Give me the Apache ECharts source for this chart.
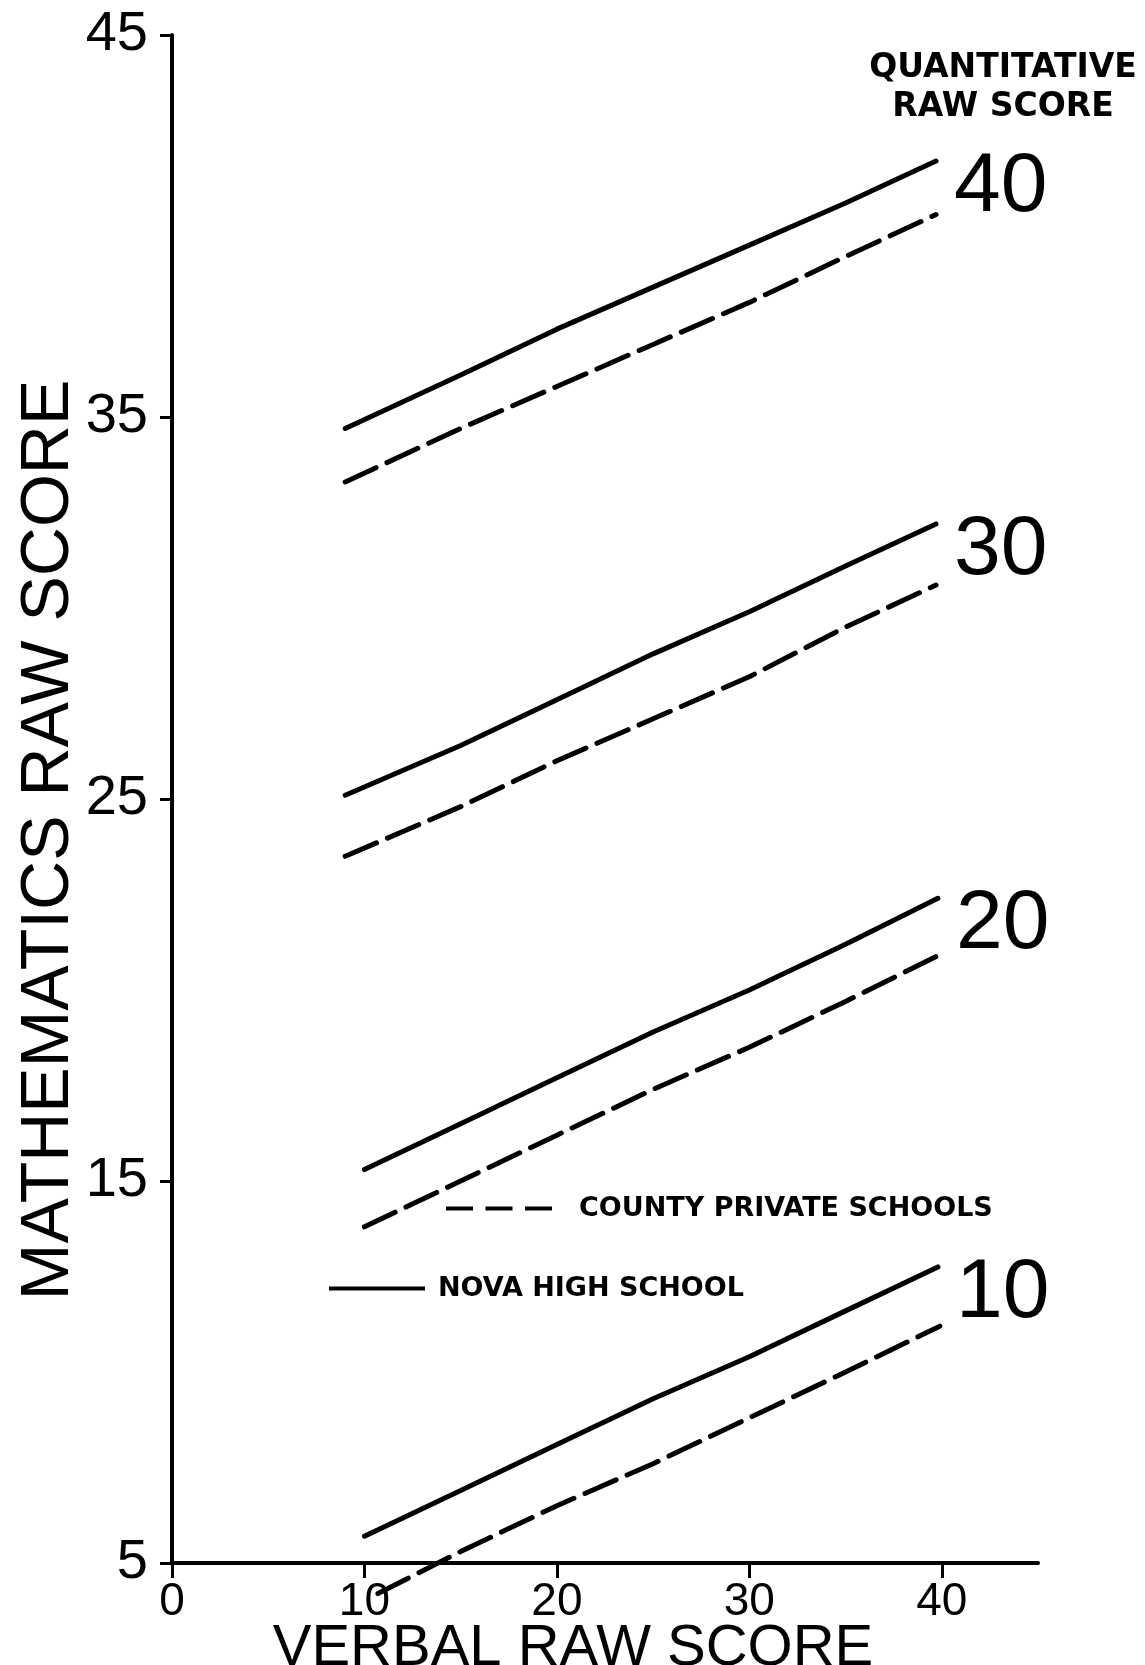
<!DOCTYPE html>
<html>
<head>
<meta charset="utf-8">
<script src="https://cdn.jsdelivr.net/npm/echarts@6/dist/echarts.min.js"></script>
<style>
  html, body { margin: 0; padding: 0; background: #fff; }
  #chart { width: 1145px; height: 1665px; }
</style>
</head>
<body>
<div id="chart"></div>
<script>
// verbal raw score positions where each curve was read
const verbalUpper = [9, 15, 20, 25, 30, 35, 39.7];
const verbalLower = [10, 15, 20, 25, 30, 35, 39.8];
const verbalCounty10 = [10.7, 15, 20, 25, 30, 35, 39.9];

// mathematics raw score, by quantitative raw score level
const nova40 = [34.7, 36.1, 37.3, 38.4, 39.5, 40.6, 41.7];
const county40 = [33.3, 34.7, 35.8, 36.9, 38.0, 39.2, 40.3];
const nova30 = [25.1, 26.4, 27.6, 28.8, 29.9, 31.1, 32.2];
const county30 = [23.5, 24.8, 26.0, 27.1, 28.2, 29.5, 30.6];
const nova20 = [15.3, 16.5, 17.7, 18.9, 20.0, 21.2, 22.4];
const county20 = [13.8, 15.0, 16.2, 17.4, 18.5, 19.7, 20.9];
const nova10 = [5.7, 6.9, 8.1, 9.3, 10.4, 11.6, 12.75];
const county10 = [4.2, 5.3, 6.5, 7.6, 8.8, 10.0, 11.2];

const NOVA = "NOVA HIGH SCHOOL";
const COUNTY = "COUNTY PRIVATE SCHOOLS";
const sans = "'Liberation Sans', sans-serif";
const bold = "'DejaVu Sans', sans-serif";

function pairs(xs, ys) {
  return xs.map((x, i) => [x, ys[i]]);
}

function novaLine(xs, ys, level) {
  return {
    name: NOVA,
    type: "line",
    color: "#000",
    data: pairs(xs, ys),
    symbol: "none",
    lineStyle: { color: "#000", width: 5, cap: "round" },
    endLabel: {
      show: true,
      formatter: level,
      fontFamily: sans,
      fontSize: 84,
      color: "#000",
      distance: 18,
      offset: [0, 27],
    },
  };
}

function countyLine(xs, ys) {
  return {
    name: COUNTY,
    type: "line",
    color: "#000",
    data: pairs(xs, ys),
    symbol: "none",
    clip: false,
    lineStyle: { color: "#000", width: 5, type: [34, 12], cap: "round" },
  };
}

const legendText = {
  fontFamily: bold,
  fontWeight: "bold",
  fontSize: 27,
  color: "#000",
};

const chart = echarts.init(document.getElementById("chart"));

const option = {
  animation: false,
  backgroundColor: "#fff",
  title: {
    text: "QUANTITATIVE\nRAW SCORE",
    left: 998,
    top: 44,
    textAlign: "center",
    textStyle: {
      fontFamily: bold,
      fontWeight: "bold",
      fontSize: 33,
      lineHeight: 39,
      color: "#000",
    },
  },
  legend: [
    {
      data: [{ name: COUNTY, icon: "path://M0,0H26V4H0Z M38,0H64V4H38Z M76,0H102V4H76Z" }],
      left: 441,
      top: 1190,
      itemWidth: 106,
      itemHeight: 5,
      textStyle: Object.assign({ padding: [0, 0, 0, 22] }, legendText),
    },
    {
      data: [{ name: NOVA, icon: "path://M0,0H96V4H0Z" }],
      left: 324,
      top: 1270,
      itemWidth: 96,
      itemHeight: 5,
      textStyle: Object.assign({ padding: [0, 0, 0, 8] }, legendText),
    },
  ],
  grid: {
    left: 172,
    right: 107,
    top: 35,
    bottom: 102,
    containLabel: false,
    outerBoundsMode: "none",
  },
  xAxis: {
    type: "value",
    min: 0,
    max: 45,
    interval: 10,
    name: "VERBAL RAW SCORE",
    nameLocation: "middle",
    nameGap: 57,
    nameMoveOverlap: false,
    nameTextStyle: {
      fontFamily: sans,
      fontSize: 58,
      color: "#000",
      padding: [0, 64, 0, 0],
    },
    axisLine: { lineStyle: { color: "#000", width: 4 } },
    axisTick: { show: true, length: 15, lineStyle: { color: "#000", width: 3 } },
    axisLabel: {
      showMaxLabel: false,
      margin: 16,
      fontFamily: sans,
      fontSize: 46,
      color: "#000",
    },
    splitLine: { show: false },
  },
  yAxis: {
    type: "value",
    min: 5,
    max: 45,
    interval: 10,
    name: "MATHEMATICS RAW SCORE",
    nameLocation: "middle",
    nameGap: 89,
    nameMoveOverlap: false,
    nameTextStyle: {
      fontFamily: sans,
      fontSize: 68,
      color: "#000",
      padding: [0, 82, 0, 0],
    },
    axisLine: { show: true, lineStyle: { color: "#000", width: 4 } },
    axisTick: { show: true, length: 12, lineStyle: { color: "#000", width: 3 } },
    axisLabel: {
      margin: 24,
      fontFamily: sans,
      fontSize: 56,
      color: "#000",
    },
    splitLine: { show: false },
  },
  series: [
    novaLine(verbalUpper, nova40, "40"),
    countyLine(verbalUpper, county40),
    novaLine(verbalUpper, nova30, "30"),
    countyLine(verbalUpper, county30),
    novaLine(verbalLower, nova20, "20"),
    countyLine(verbalLower, county20),
    novaLine(verbalLower, nova10, "10"),
    countyLine(verbalCounty10, county10),
  ],
};

chart.setOption(option);
</script>
</body>
</html>
